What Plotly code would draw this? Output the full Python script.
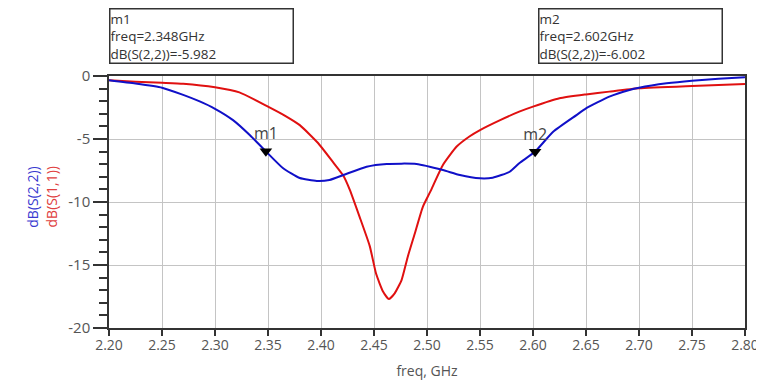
import plotly.graph_objects as go

# ---- data ----
freq_s22 = [2.200, 2.225, 2.250, 2.270, 2.285, 2.300, 2.317, 2.333, 2.348, 2.364,
            2.380, 2.396, 2.408, 2.421, 2.443, 2.462, 2.490, 2.515, 2.531, 2.550,
            2.562, 2.578, 2.587, 2.602, 2.619, 2.641, 2.650, 2.672, 2.691, 2.700,
            2.726, 2.750, 2.775, 2.800]
db_s22 = [-0.34, -0.60, -0.93, -1.50, -2.00, -2.60, -3.50, -4.70, -5.98, -7.30,
          -8.10, -8.33, -8.25, -7.86, -7.20, -6.98, -6.98, -7.46, -7.86, -8.12,
          -8.07, -7.60, -6.93, -6.00, -4.42, -3.10, -2.57, -1.64, -1.11, -0.93,
          -0.58, -0.37, -0.22, -0.10]

freq_s11 = [2.200, 2.225, 2.250, 2.270, 2.300, 2.323, 2.350, 2.367, 2.380, 2.397,
            2.411, 2.421, 2.427, 2.4365, 2.446, 2.452, 2.4585, 2.464, 2.4695, 2.476,
            2.482, 2.4885, 2.496, 2.503, 2.515, 2.528, 2.540, 2.550, 2.569, 2.587, 2.600,
            2.625, 2.650, 2.672, 2.700, 2.750, 2.800]
db_s11 = [-0.34, -0.45, -0.54, -0.62, -0.90, -1.30, -2.43, -3.20, -3.90, -5.30,
          -6.80, -7.90, -9.00, -11.20, -13.50, -15.70, -17.10, -17.70, -17.25, -16.20,
          -14.30, -12.50, -10.40, -9.20, -7.06, -5.60, -4.80, -4.29, -3.50, -2.83, -2.43,
          -1.77, -1.46, -1.24, -0.98, -0.79, -0.63]

marker_names = ["m1", "m2"]
marker_freq = [2.348, 2.602]
marker_db = [-5.982, -6.002]

x_ticks = [2.20, 2.25, 2.30, 2.35, 2.40, 2.45, 2.50, 2.55, 2.60, 2.65, 2.70, 2.75, 2.80]
y_ticks = [0, -5, -10, -15, -20]

FONT = "Open Sans"
TXT = "#444444"
BLUE = "#1010C8"
RED = "#E01010"

fig = go.Figure()
fig.add_trace(go.Scatter(x=freq_s11, y=db_s11, mode="lines",
                         line=dict(color=RED, width=2, shape="spline", smoothing=0.5),
                         name="dB(S(1,1))"))
fig.add_trace(go.Scatter(x=freq_s22, y=db_s22, mode="lines",
                         line=dict(color=BLUE, width=2, shape="spline", smoothing=0.5),
                         name="dB(S(2,2))"))
# markers m1, m2
fig.add_trace(go.Scatter(x=marker_freq, y=marker_db, mode="markers+text",
                         text=marker_names, textposition="top center",
                         textfont=dict(family=FONT, size=16, color=TXT),
                         marker=dict(symbol="triangle-down", size=11, color="black"),
                         name="markers"))

annotations = []

# marker readout boxes (paper coordinates)
box_x0 = [0.0, 0.6745]
for i, (name, f, v) in enumerate(zip(marker_names, marker_freq, marker_db)):
    txt = f"{name}<br>freq={f:.3f}GHz<br>dB(S(2,2))={v:.3f}"
    annotations.append(dict(x=box_x0[i], y=1.046, xref="paper", yref="paper",
                            text=txt, showarrow=False, xanchor="left", yanchor="bottom",
                            align="left", width=182, borderpad=0,
                            bordercolor="#333333", borderwidth=1.5,
                            font=dict(family=FONT, size=13.5, color="#333333")))

# rotated y labels
annotations.append(dict(x=-0.138, y=0.52, xref="paper", yref="paper", text="dB(S(2,2))",
                        textangle=-90, showarrow=False,
                        font=dict(family=FONT, size=14, color="#3a3ad0")))
annotations.append(dict(x=-0.1085, y=0.52, xref="paper", yref="paper", text="dB(S(1,1))",
                        textangle=-90, showarrow=False,
                        font=dict(family=FONT, size=14, color="#e04040")))

fig.update_layout(
    width=756, height=373,
    margin=dict(l=101, r=19, t=68, b=53, autoexpand=False),
    paper_bgcolor="white", plot_bgcolor="white",
    showlegend=False,
    annotations=annotations,
    font=dict(family=FONT, color=TXT),
)
fig.update_xaxes(range=[2.20, 2.80], tickvals=x_ticks,
                 ticktext=[f"{t:.2f}" for t in x_ticks],
                 showgrid=True, gridcolor="#c4c4c4", gridwidth=1,
                 showline=True, linecolor="#333333", linewidth=1.5, mirror=True,
                 ticks="outside", ticklen=6, tickcolor="#333333", tickwidth=1.5,
                 ticklabelstandoff=-3,
                 tickfont=dict(family=FONT, size=14, color="#555555"),
                 title=dict(text="freq, GHz", font=dict(family=FONT, size=14, color="#555555"),
                            standoff=14),
                 automargin=False, zeroline=False)
fig.update_yaxes(range=[-20, 0], tickvals=y_ticks,
                 ticktext=[str(t) for t in y_ticks],
                 showgrid=True, gridcolor="#c4c4c4", gridwidth=1,
                 showline=True, linecolor="#333333", linewidth=1.5, mirror=True,
                 ticks="outside", ticklen=14, tickcolor="#333333", tickwidth=1.5,
                 minor=dict(dtick=1, ticks="outside", ticklen=8, tickcolor="#333333",
                            tickwidth=1.5, showgrid=False),
                 tickfont=dict(family=FONT, size=15, color="#555555"),
                 automargin=False, zeroline=False)

fig.write_html("out.html")
